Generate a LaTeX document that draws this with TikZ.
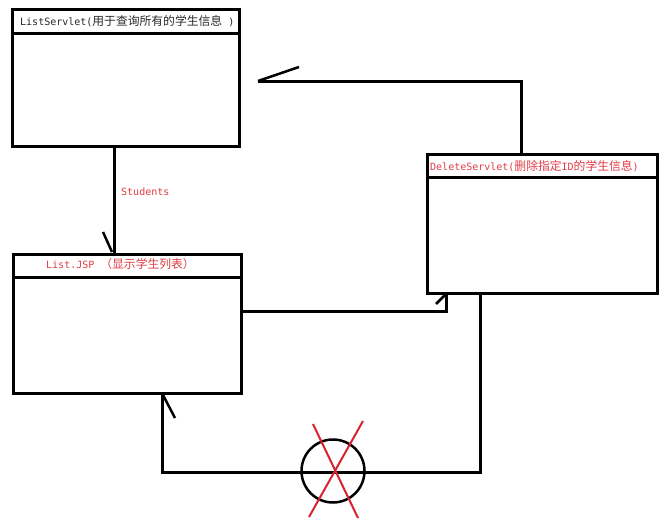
\documentclass[tikz,border=0pt]{standalone}
\usepackage{fontspec}
\setmainfont{DejaVu Sans Mono}
\newfontfamily\cjk{Noto Sans CJK SC}
\usetikzlibrary{calc}
\definecolor{txtred}{RGB}{225,60,70}
\definecolor{txtblk}{RGB}{40,40,40}
\definecolor{xred}{RGB}{215,35,45}
\newcommand{\cj}[1]{{\cjk\fontsize{11.8}{12}\selectfont #1}}
\begin{document}
\begin{tikzpicture}[x=1pt,y=-1pt,
  box/.style={draw, rectangle, line width=3pt, inner sep=0pt, outer sep=0pt, anchor=north west},
  title/.style={anchor=west, inner sep=0pt, font=\fontsize{10}{10}\selectfont},
  conn/.style={line width=3pt},
  half/.style={line width=2.5pt},
  cross/.style={line width=2pt, draw=xred}]
\useasboundingbox[fill=white] (0,0) rectangle (672,522);

% boxes
\node[box, minimum width=227pt, minimum height=137pt] (ls) at (12.5,9.5) {};
\node[box, minimum width=228pt, minimum height=139pt] (jsp) at (13.5,254) {};
\node[box, minimum width=229.5pt, minimum height=139pt] (del) at (427.5,154) {};

% header dividers
\draw[conn] (ls.west |- 0,33) -- (ls.east |- 0,33);
\draw[conn] (jsp.west |- 0,277.5) -- (jsp.east |- 0,277.5);
\draw[conn] (del.west |- 0,177.5) -- (del.east |- 0,177.5);

% titles
\node[title, text=txtblk] (lst) at (20,21) {ListServlet(\cj{用于查询所有的学生信息}~)};
\node[title, text=txtred] (jspt) at (46,264.5) {List.JSP~\cj{（显示学生列表）}};
\node[title, text=txtred] (delt) at (430,166) {DeleteServlet(\cj{删除指定}ID\cj{的学生信息})};
\node[title, text=txtred] (stu) at (121,192) {Students};

% connector 1: ListServlet -> List.JSP
\draw[conn] (ls.south -| 114,0) -- (jsp.north -| 114,0);
\draw[half] ($(jsp.north -| 114,0)+(-2,-2)$) -- ++(-9,-20);

% connector 2: DeleteServlet -> back toward ListServlet
\coordinate (e2) at (258,81);
\draw[conn] (del.north -| 521.5,0) -- (521.5,81) -- (e2);
\draw[half] (e2) -- ++(41,-14);

% connector 3: List.JSP -> DeleteServlet
\draw[conn] (jsp.east |- 0,311) -- (446,311) -- (del.south -| 446,0);
\draw[half] ($(del.south -| 446,0)+(-1,2)$) -- ++(-9,9);

% connector 4: DeleteServlet -> List.JSP (crossed out)
\node[draw, circle, minimum size=63pt, inner sep=0pt, line width=2.5pt] (c) at (333,471) {};
\draw[conn] (del.south -| 480,0) -- (480,472) -- (162,472) -- (jsp.south -| 162,0);
\draw[half] ($(jsp.south -| 162,0)+(1,2)$) -- ++(12,23);

% red cross
\draw[cross] (313,424) -- (358,518);
\draw[cross] (363,421) -- (309,517);
\end{tikzpicture}
\end{document}
